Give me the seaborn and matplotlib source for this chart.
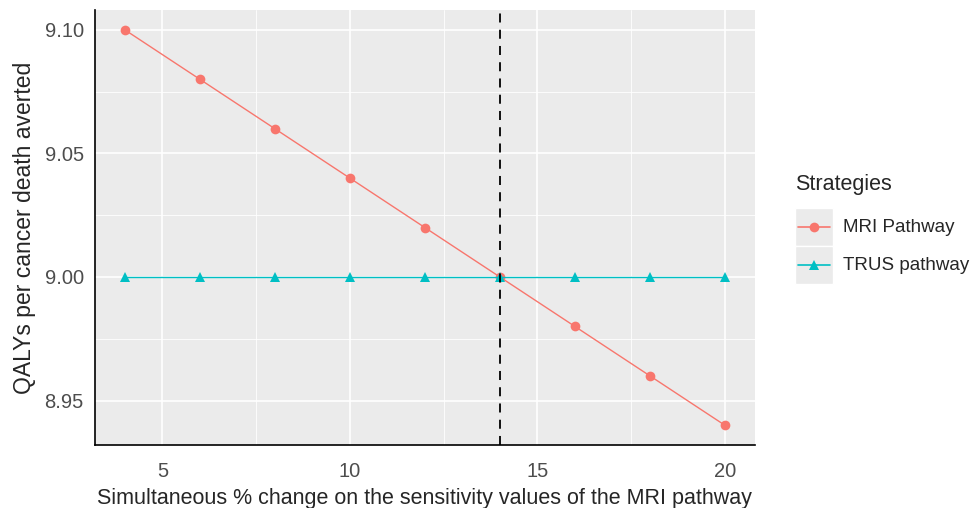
import numpy as np
import matplotlib
matplotlib.use("Agg")
import matplotlib.pyplot as plt
import seaborn as sns
import pandas as pd
from matplotlib.lines import Line2D
from matplotlib.patches import Rectangle

# data
change = [4, 6, 8, 10, 12, 14, 16, 18, 20]
mri_qalys = [9.10, 9.08, 9.06, 9.04, 9.02, 9.00, 8.98, 8.96, 8.94]
trus_qalys = [9.00, 9.00, 9.00, 9.00, 9.00, 9.00, 9.00, 9.00, 9.00]
strategies = ["MRI Pathway", "TRUS pathway"]
threshold = 14

df = pd.DataFrame({
    "change": change * 2,
    "qalys": mri_qalys + trus_qalys,
    "Strategies": [strategies[0]] * len(change) + [strategies[1]] * len(change),
})

sns.set_style("darkgrid", {"axes.facecolor": "#EBEBEB", "grid.color": "white"})
plt.rcParams["font.family"] = ["Liberation Sans", "DejaVu Sans"]

palette = {"MRI Pathway": "#F8766D", "TRUS pathway": "#00BFC4"}
markers = {"MRI Pathway": "o", "TRUS pathway": "^"}

fig = plt.figure(figsize=(9.74, 5.08), dpi=100)
ax = fig.add_axes([0.0975, 0.124, 0.6775, 0.856])

sns.lineplot(data=df, x="change", y="qalys", hue="Strategies", style="Strategies",
             palette=palette, markers=markers, dashes=False, linewidth=1.0,
             markersize=7, markeredgewidth=0, ax=ax, legend=False)

ax.axvline(threshold, color="black", linestyle=(0, (5, 4)), linewidth=1.3)

ax.set_xlim(3.2, 20.8)
ax.set_ylim(8.932, 9.108)
ax.set_xticks([5, 10, 15, 20])
ax.set_yticks([8.95, 9.00, 9.05, 9.10])
ax.set_yticklabels(["8.95", "9.00", "9.05", "9.10"])
ax.set_xticks([7.5, 12.5, 17.5], minor=True)
ax.set_yticks([8.975, 9.025, 9.075], minor=True)
ax.grid(which="major", color="white", linewidth=1.2)
ax.grid(which="minor", color="white", linewidth=0.6)
ax.tick_params(which="major", length=5, color="#333333", labelsize=14.5, labelcolor="#4D4D4D")
ax.tick_params(axis="x", which="major", pad=7)
ax.tick_params(axis="y", which="major", pad=3)
ax.tick_params(which="minor", length=0)
for side in ["top", "right"]:
    ax.spines[side].set_visible(False)
for side in ["left", "bottom"]:
    ax.spines[side].set_visible(True)
    ax.spines[side].set_color("black")
    ax.spines[side].set_linewidth(1.2)

ax.set_xlabel("Simultaneous % change on the sensitivity values of the MRI pathway", fontsize=15.5, labelpad=5)
ax.set_ylabel("QALYs per cancer death averted", fontsize=16.5, labelpad=6)

# legend drawn ggplot-style with grey key boxes
fig.text(0.816, 0.636, "Strategies", fontsize=15.5, va="center", ha="left")
for i, s in enumerate(strategies):
    yc = 1 - (227 + i * 38) / 508
    fig.patches.append(Rectangle((0.816, yc - 0.037), 0.039, 0.074, transform=fig.transFigure,
                                 facecolor="#EBEBEB", edgecolor="white", linewidth=1, zorder=1))
    fig.lines.append(Line2D([0.819, 0.852], [yc, yc], transform=fig.transFigure,
                            color=palette[s], linewidth=1.2, zorder=2))
    fig.lines.append(Line2D([0.8355], [yc], transform=fig.transFigure, marker=markers[s],
                            color=palette[s], markersize=7, markeredgewidth=0, zorder=3))
    fig.text(0.865, yc, s, fontsize=13.5, va="center", ha="left")

fig.savefig("out.png", dpi=100)
